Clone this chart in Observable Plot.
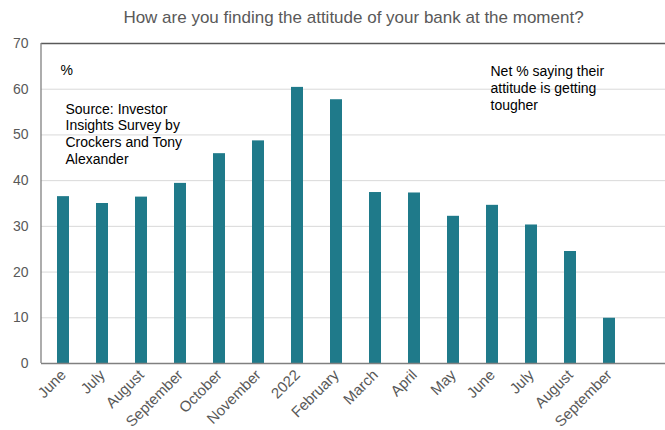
<!DOCTYPE html>
<html>
<head>
<meta charset="utf-8">
<script src="https://cdn.jsdelivr.net/npm/d3@7"></script>
<script src="https://cdn.jsdelivr.net/npm/@observablehq/plot@0.6"></script>
<style>
  html, body { margin: 0; padding: 0; background: #fff; }
  svg { display: block; }
</style>
</head>
<body>
<div id="chart"></div>
<script>
const labels = ["June","July","August","September","October","November","2022","February","March","April","May","June","July","August","September"];
const values = [36.5, 35.0, 36.4, 39.4, 45.9, 48.7, 60.4, 57.7, 37.4, 37.3, 32.2, 34.6, 30.3, 24.5, 9.9];
const yTicks = [0, 10, 20, 30, 40, 50, 60, 70];
const title = "How are you finding the attitude of your bank at the moment?";
const unitLabel = "%";
const sourceNote = "Source: Investor\nInsights Survey by\nCrockers and Tony\nAlexander";
const seriesNote = "Net % saying their\nattitude is getting\ntougher";

const data = values.map((v, i) => ({i, label: labels[i], value: v}));
const font = "Liberation Sans, Arial, sans-serif";

// left axis line drawn from the plot's own dimensions
const leftAxisLine = (index, scales, channels, dimensions) => {
  const {marginLeft, marginTop, height, marginBottom} = dimensions;
  return d3.create("svg:line")
    .attr("x1", marginLeft).attr("x2", marginLeft)
    .attr("y1", marginTop).attr("y2", height - marginBottom)
    .attr("stroke", "#808080").attr("stroke-width", 1.3)
    .node();
};

const chart = Plot.plot({
  width: 665,
  height: 430,
  marginLeft: 41,
  marginRight: 0,
  marginTop: 43,
  marginBottom: 67,
  style: {fontFamily: font, fontSize: "14px", color: "#595959", background: "#fff"},
  x: {
    type: "band",
    domain: d3.range(16),
    range: [41.7, 668.9],
    paddingInner: 0.68,
    paddingOuter: 0.34,
    align: 0.5
  },
  y: {domain: [0, 70], range: [363, 43]},
  marks: [
    Plot.ruleY(yTicks.filter(d => d > 0 && d < 70), {stroke: "#d9d9d9", strokeWidth: 1}),
    Plot.barY(data, {x: "i", y: "value", fill: "#1f7a8a"}),
    Plot.ruleY([70], {stroke: "#595959", strokeWidth: 1.3}),
    Plot.ruleY([0], {stroke: "#808080", strokeWidth: 1.3}),
    leftAxisLine,
    Plot.axisY({ticks: yTicks, tickSize: 0, tickPadding: 13, fontSize: 14, fill: "#595959", label: null}),
    Plot.axisX({
      ticks: d3.range(labels.length),
      tickFormat: i => labels[i],
      tickRotate: -45,
      tickSize: 0,
      tickPadding: 9,
      fontSize: 15,
      fill: "#595959",
      label: null
    }),
    Plot.text([title], {frameAnchor: "top", dy: -26, fontSize: 17, fill: "#595959", lineAnchor: "middle"}),
    Plot.text([unitLabel], {frameAnchor: "top-left", dx: 19, dy: 27, textAnchor: "start", lineAnchor: "middle", fontSize: 14, fill: "#000"}),
    Plot.text([sourceNote], {frameAnchor: "top-left", dx: 24, dy: 90, textAnchor: "start", lineAnchor: "middle", lineHeight: 1.2, fontSize: 14, fill: "#000"}),
    Plot.text([seriesNote], {frameAnchor: "top-left", dx: 449, dy: 44, textAnchor: "start", lineAnchor: "middle", lineHeight: 1.2, fontSize: 14, fill: "#000"})
  ]
});
document.getElementById("chart").appendChild(chart);
</script>
</body>
</html>
